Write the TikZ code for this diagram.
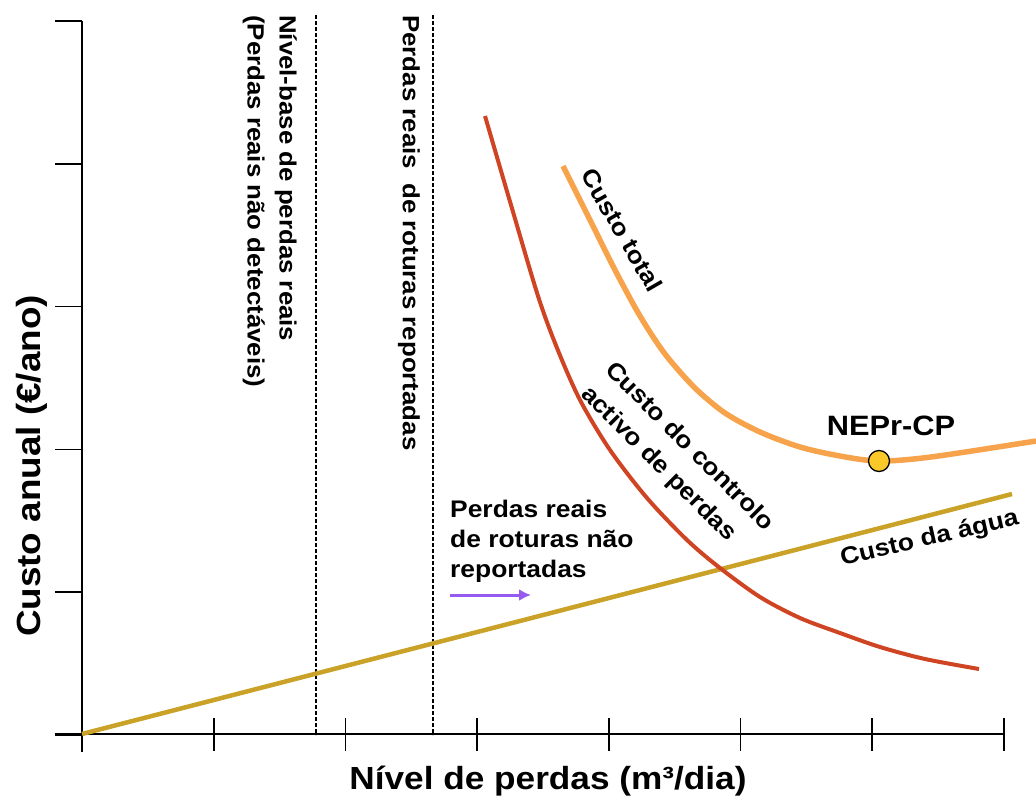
\documentclass[tikz,border=0pt]{standalone}
\usepackage{fontspec}
\setmainfont{Liberation Sans}[FakeStretch=1.1]
\usetikzlibrary{arrows.meta}

\definecolor{totalcol}{RGB}{246,163,76}
\definecolor{controlcol}{RGB}{207,68,34}
\definecolor{watercol}{RGB}{201,162,39}
\definecolor{dotcol}{RGB}{250,200,40}
\definecolor{arrowcol}{RGB}{150,90,240}

\begin{document}
\begin{tikzpicture}[x=1pt, y=-1pt,
    every node/.style={font=\bfseries\fontsize{24}{30}\selectfont, inner sep=0pt},
    axislabel/.style={font=\bfseries\fontsize{32}{38}\selectfont},
    levellabel/.style={rotate=-90, anchor=north west, align=left, font=\bfseries\fontsize{23.5}{32}\selectfont},
    level/.style={dashed, dash pattern=on 4pt off 2pt, line width=2pt}]

    \useasboundingbox (0,0) rectangle (1036,798);

    % Axes
    \draw[line width=2.2pt] (82,21) -- (82,752);
    \draw[line width=2.2pt] (55,734) -- (1004,734);
    \foreach \k in {0,...,5}
        \draw[line width=1.6pt] (55,{21+142.8*\k}) -- (82,{21+142.8*\k});
    \foreach \k in {0,...,7}
        \draw[line width=1.6pt] ({82+131.7*\k},718) -- ({82+131.7*\k},751);

    \node[axislabel, anchor=base] (xlabel) at (548,789) {Nível de perdas (m³/dia)};
    \node[axislabel, rotate=90, font=\bfseries\fontsize{33.5}{38}\selectfont] (ylabel) at (32,466) {Custo anual (€/ano)};

    % Loss levels
    \draw[level] (316,15) -- (316,735);
    \draw[level] (433,15) -- (433,735);
    \node[levellabel] (baselabel) at (297,15) {Nível-base de perdas reais\\(Perdas reais não detectáveis)};
    \node[levellabel] (reportlabel) at (420,15) {Perdas reais~~de roturas reportadas};

    % Cost of water
    \draw[watercol, line width=4.5pt] (82,734) -- (1012,494);
    \node[rotate=13, anchor=base] (waterlabel) at (931,545) {Custo da água};

    % Cost of active leakage control
    \draw[controlcol, line width=4pt] plot[smooth] coordinates {(485,116) (511,205) (538,296) (557,348) (580,400) (610,450) (647,498) (687,540) (720,568) (760,597) (800,618) (840,633) (880,647) (925,659) (979,669)};
    \node[rotate=-45, align=left, font=\bfseries\fontsize{24}{34}\selectfont] (controllabel) at (677,459) {Custo do controlo\\activo de perdas};

    % Total cost
    \draw[totalcol, line width=5.5pt] plot[smooth] coordinates {(563,166) (590,220) (615,270) (640,316) (665,354) (695,388) (725,413) (760,432) (800,447) (840,456) (879,461) (931,457) (1036,441)};
    \node[rotate=-60] (totallabel) at (622,230) {Custo total};

    % Economic level
    \node[circle, draw, fill=dotcol, minimum size=21pt, line width=1.3pt] (nepr) at (879,461) {};
    \node[anchor=base, font=\bfseries\fontsize{28}{32}\selectfont] (neprlabel) at (891,435) {NEPr-CP};

    % Unreported bursts
    \node[anchor=north west, align=left] (unreplabel) at (450,500) {Perdas reais\\de roturas não\\reportadas};
    \coordinate (arrowstart) at (450,595);
    \coordinate (arrowend) at (531,595);
    \draw[arrowcol, line width=3pt, -{Latex[length=12pt, width=12pt]}] (arrowstart) -- (arrowend);

\end{tikzpicture}
\end{document}
